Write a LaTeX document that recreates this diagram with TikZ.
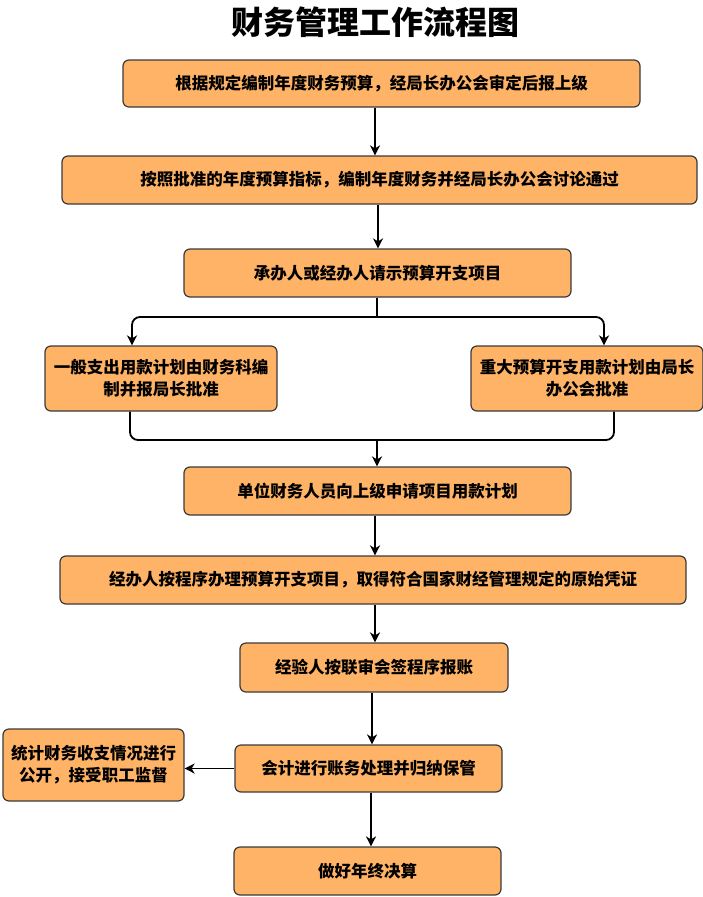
\documentclass[tikz,border=0pt]{standalone}
\usepackage{fontspec}
\setmainfont{Noto Sans CJK SC}
\usetikzlibrary{arrows.meta,positioning,calc}
\definecolor{stepOrange}{HTML}{FFB366}
\definecolor{stepEdge}{HTML}{3A3A3A}

\begin{document}
\begin{tikzpicture}[x=1pt,y=-1pt,
  stepbox/.style={rectangle,draw=stepEdge,fill=stepOrange,rounded corners=6pt,
                  line width=1.2pt,align=center,inner sep=2pt,
                  font=\bfseries\fontsize{16.5}{22}\selectfont},
  arr/.style={-{Stealth[length=10pt,width=10pt,inset=3pt]},line width=1.8pt},
  link/.style={line width=1.8pt,rounded corners=8pt}
]
  \useasboundingbox (0,0) rectangle (703,897);
  \node[font=\bfseries\fontsize{32}{36}\selectfont](title) at (375,22){财务管理工作流程图};

  \node[stepbox,minimum width=517pt,minimum height=47pt](budget) at (381.5,83.5)
       {根据规定编制年度财务预算，经局长办公会审定后报上级};
  \node[stepbox,minimum width=635pt,minimum height=48pt](approve) at (379.5,180)
       {按照批准的年度预算指标，编制年度财务并经局长办公会讨论通过};
  \node[stepbox,minimum width=387pt,minimum height=48pt](request) at (377.5,273)
       {承办人或经办人请示预算开支项目};
  \node[stepbox,minimum width=232pt,minimum height=65pt](normal) at (161,378.5)
       {一般支出用款计划由财务科编\\制并报局长批准};
  \node[stepbox,minimum width=232pt,minimum height=65pt](major) at (587,378.5)
       {重大预算开支用款计划由局长\\办公会批准};
  \node[stepbox,minimum width=387pt,minimum height=48pt](apply) at (377.5,491)
       {单位财务人员向上级申请项目用款计划};
  \node[stepbox,minimum width=626pt,minimum height=48pt](handle) at (373,580)
       {经办人按程序办理预算开支项目，取得符合国家财经管理规定的原始凭证};
  \node[stepbox,minimum width=268pt,minimum height=49pt](check) at (374,667.5)
       {经验人按联审会签程序报账};
  \node[stepbox,minimum width=267pt,minimum height=47pt](account) at (368.5,768.5)
       {会计进行账务处理并归纳保管};
  \node[stepbox,minimum width=181pt,minimum height=72pt](publish) at (93.5,765)
       {统计财务收支情况进行\\公开，接受职工监督};
  \node[stepbox,minimum width=267pt,minimum height=48pt](final) at (367.5,871)
       {做好年终决算};

  \coordinate (split) at (377,317);
  \coordinate (merge) at (377,440);

  \draw[arr](budget.south -| 375,0)--(approve.north -| 375,0);
  \draw[arr](approve.south -| 378,0)--(request.north -| 378,0);
  \draw[line width=1.8pt](request.south -| split)--(split);
  \draw[arr,rounded corners=8pt](split)-|([xshift=-29pt]normal.north);
  \draw[arr,rounded corners=8pt](split)-|([xshift=17pt]major.north);
  \draw[link]([xshift=-31pt]normal.south)|-(merge)-|([xshift=27pt]major.south);
  \draw[arr](merge)--(apply.north -| merge);
  \draw[arr](apply.south -| 375,0)--(handle.north -| 375,0);
  \draw[arr](handle.south -| 375,0)--(check.north -| 375,0);
  \draw[arr](check.south -| 372,0)--(account.north -| 372,0);
  \draw[arr](account.west)--(publish.east |- account.west);
  \draw[arr](account.south -| 371,0)--(final.north -| 371,0);
\end{tikzpicture}
\end{document}
